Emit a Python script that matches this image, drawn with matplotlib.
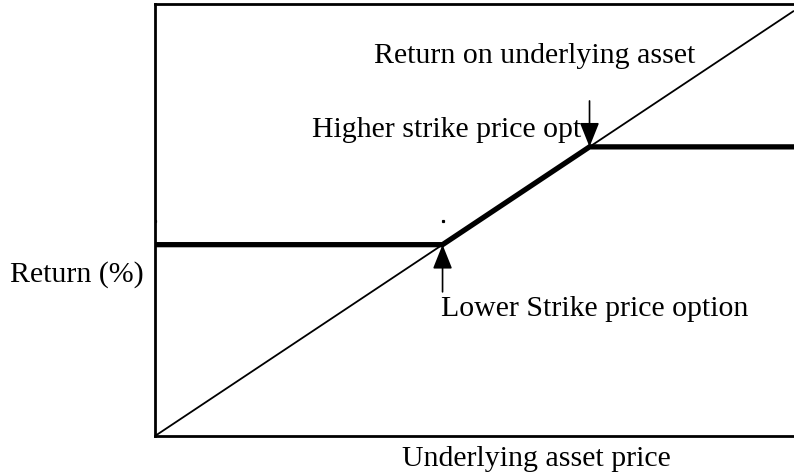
"""Payoff diagram: return vs underlying asset price with a collar between two strikes."""
import matplotlib
matplotlib.use("Agg")
import matplotlib.pyplot as plt

# data
price = [0, 100]
underlying_return = [0, 100]
lower_strike = 45
upper_strike = 68
collar_x = [0, lower_strike, upper_strike, 100]
collar_y = [lower_strike, lower_strike, upper_strike, upper_strike]
stray_marks_x = [0, lower_strike]
stray_marks_y = [50.6, 50.6]

plt.rcParams["font.family"] = ["Liberation Serif", "DejaVu Serif"]
FS = 21.5

fig = plt.figure(figsize=(7.94, 4.77), dpi=100)
ax = fig.add_axes([155 / 794, 40 / 477, 639 / 794, 432 / 477])
ax.set_xlim(0, 100)
ax.set_ylim(0, 101.6)

ax.plot(price, underlying_return, color="black", lw=1.3, solid_capstyle="butt")
ax.plot(collar_x, collar_y, color="black", lw=3.8, solid_joinstyle="miter")
ax.plot(stray_marks_x, stray_marks_y, linestyle="none", marker="s",
        markersize=1.3, color="black")

for side in ["left", "bottom", "top"]:
    ax.spines[side].set_linewidth(2.0)
ax.spines["right"].set_visible(False)
ax.set_xticks([])
ax.set_yticks([])

arrow = dict(arrowstyle="-|>,head_length=1.5,head_width=0.6", color="black",
             lw=1.2, shrinkA=0, shrinkB=0, mutation_scale=10)
ax.annotate("", xy=(lower_strike, lower_strike), xytext=(lower_strike, 33.9),
            arrowprops=arrow)
ax.annotate("", xy=(upper_strike, upper_strike), xytext=(upper_strike, 78.8),
            arrowprops=arrow)

ax.text(34.2, 88.0, "Return on underlying asset", fontsize=FS, va="baseline")
ax.text(24.6, 70.6, "Higher strike price opt", fontsize=FS, va="baseline")
ax.text(44.7, 28.5, "Lower Strike price option", fontsize=FS, va="baseline")
ax.text(38.6, -6.8, "Underlying asset price", fontsize=FS, va="baseline",
        clip_on=False)
fig.text(10 / 794, 0.409, "Return (%)", fontsize=FS, va="baseline")

fig.savefig("out.png", dpi=100)
